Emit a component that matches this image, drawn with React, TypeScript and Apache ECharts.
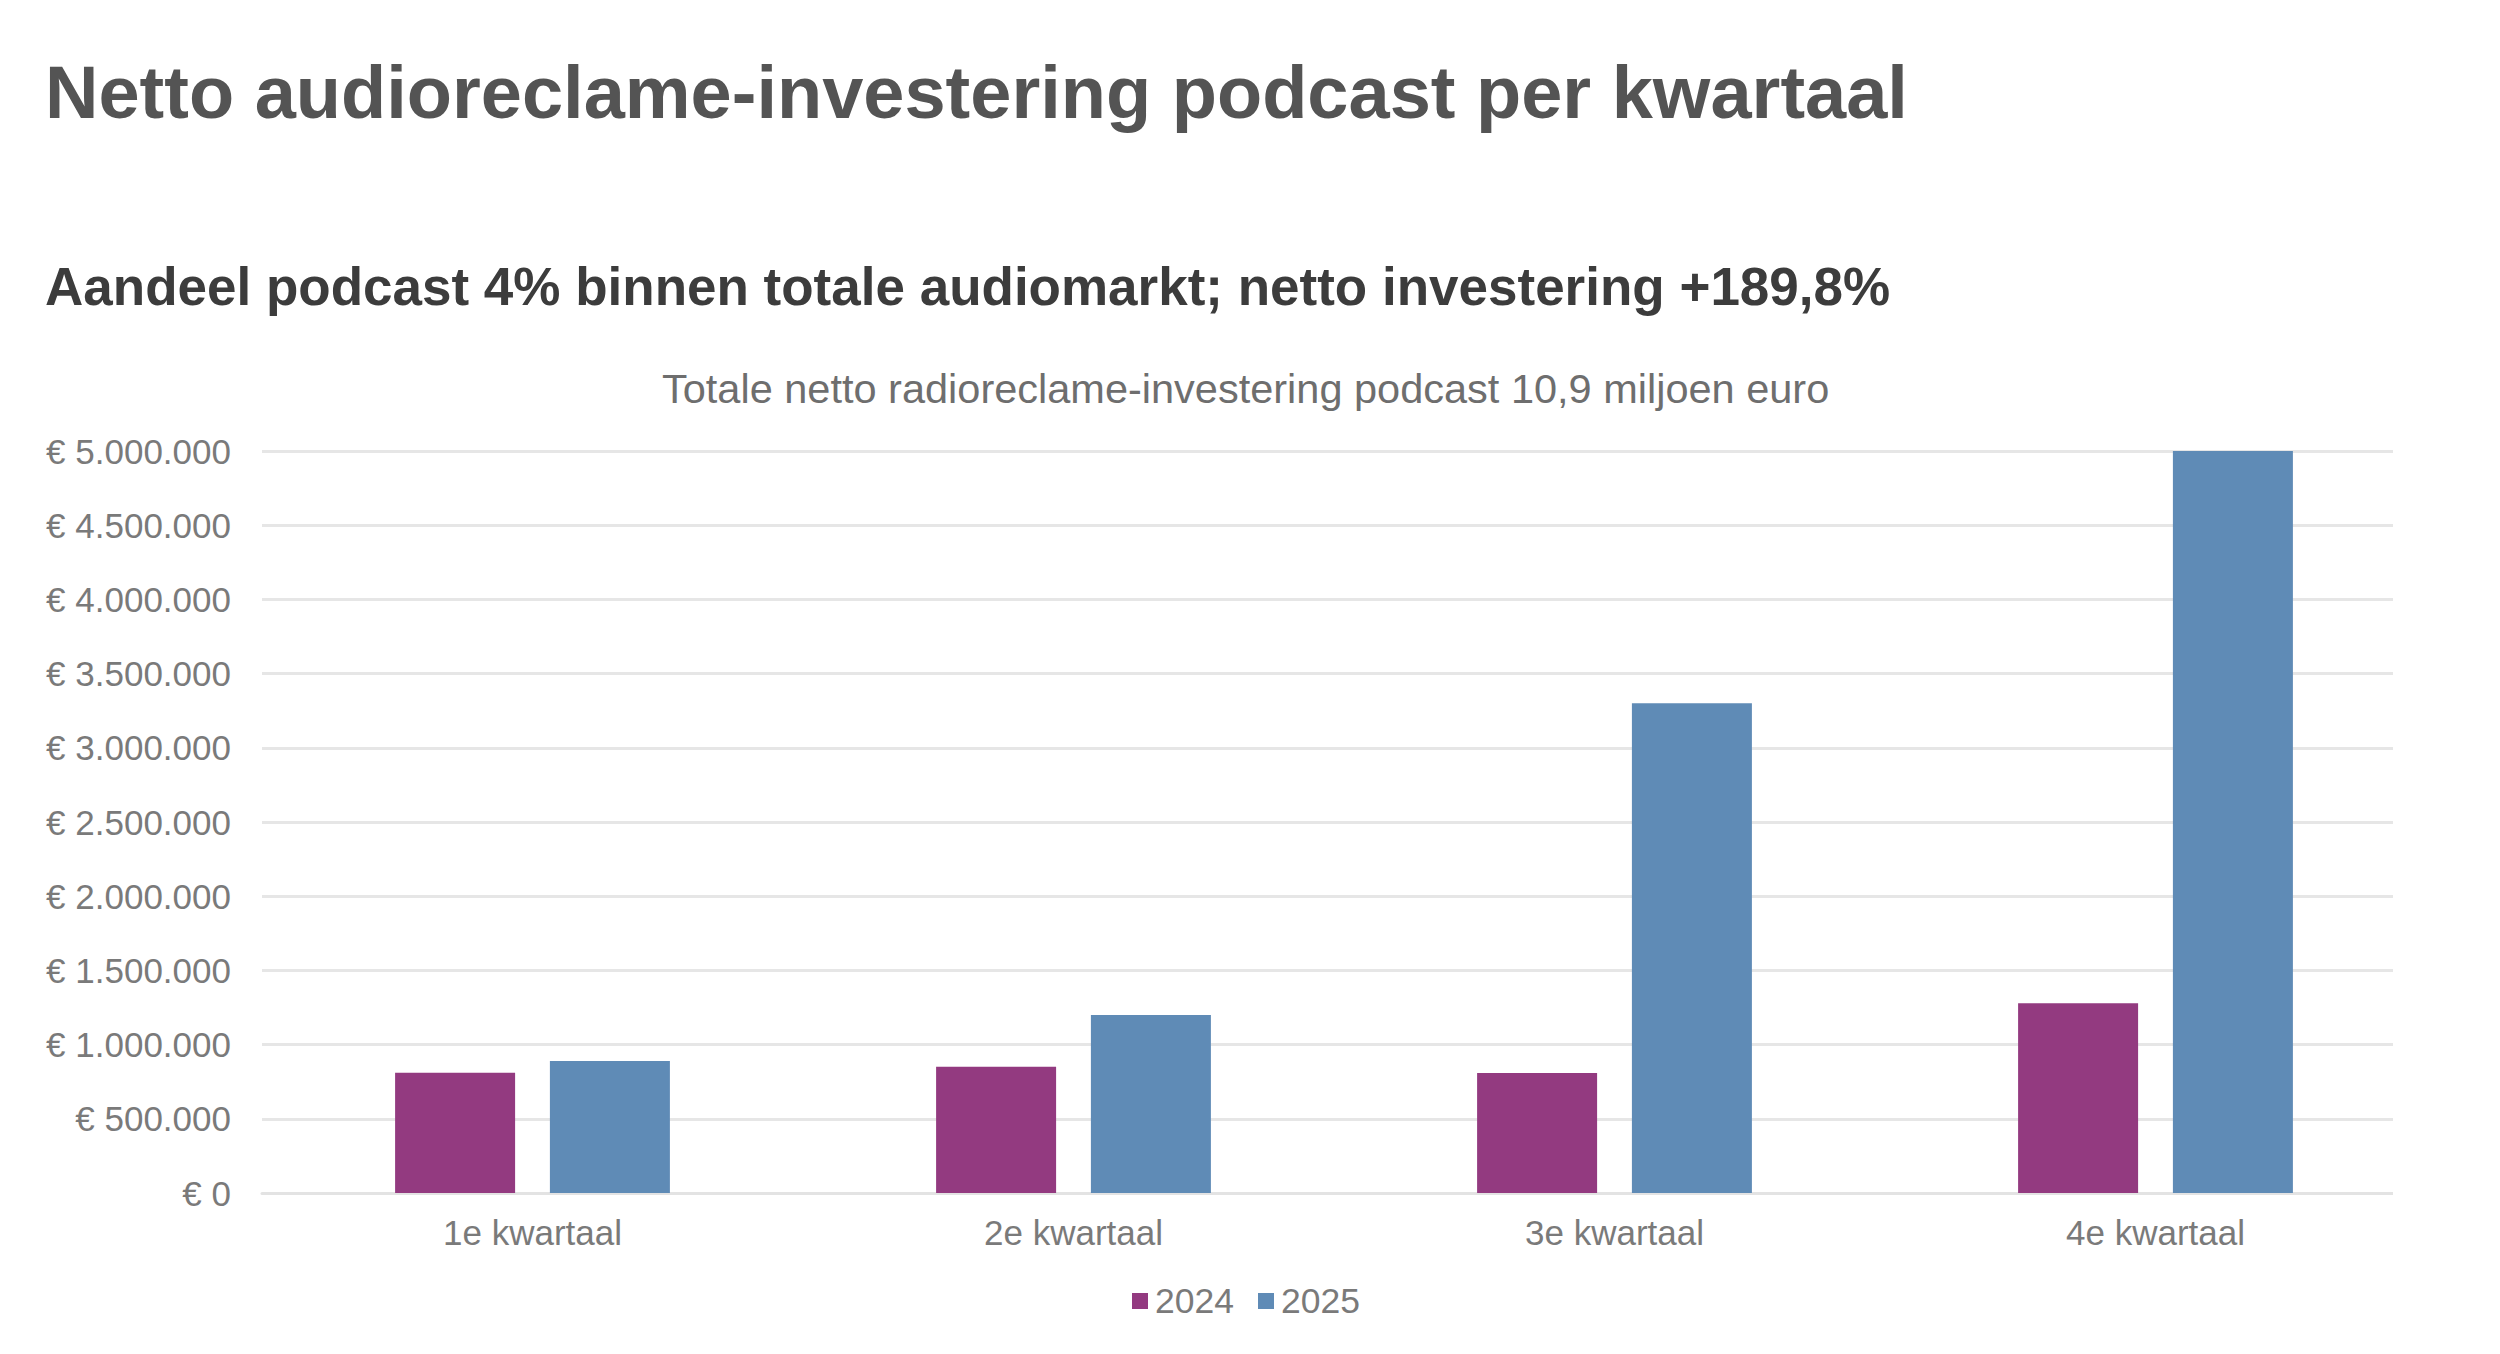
import React, { useEffect, useRef } from "react";
import * as echarts from "echarts";

const categories = ["1e kwartaal", "2e kwartaal", "3e kwartaal", "4e kwartaal"];
const values2024 = [810000, 850000, 808000, 1278000];
const values2025 = [889000, 1200000, 3300000, 5000000];
const seriesNames = ["2024", "2025"];
const yTicks = { min: 0, max: 5000000, interval: 500000 };

const mainTitle = "Netto audioreclame-investering podcast per kwartaal";
const subTitle = "Aandeel podcast 4% binnen totale audiomarkt; netto investering +189,8%";
const chartTitle = "Totale netto radioreclame-investering podcast 10,9 miljoen euro";

const FONT = "'Liberation Sans', Arial, Helvetica, sans-serif";

function euro(v: number): string {
  const s = Math.round(v).toString().replace(/\B(?=(\d{3})+(?!\d))/g, ".");
  return "€ " + s;
}

export default function App() {
  const ref = useRef<HTMLDivElement>(null);
  useEffect(() => {
    document.body.style.margin = "0";
    const chart = echarts.init(ref.current!, null, { renderer: "svg" });
    chart.setOption({
      animation: false,
      backgroundColor: "#ffffff",
      textStyle: { fontFamily: FONT },
      title: [
        {
          text: mainTitle,
          left: 45,
          top: 55,
          padding: 0,
          textStyle: { fontFamily: FONT, fontSize: 74, fontWeight: "bold", color: "#545454", lineHeight: 74 },
        },
        {
          text: subTitle,
          left: 45,
          top: 260,
          padding: 0,
          textStyle: { fontFamily: FONT, fontSize: 53, fontWeight: "bold", color: "#3c3c3c", lineHeight: 53 },
        },
        {
          text: chartTitle,
          left: 662,
          top: 368,
          padding: 0,
          textStyle: { fontFamily: FONT, fontSize: 41.5, fontWeight: "normal", color: "#6e6e6e", lineHeight: 41 },
        },
      ],
      legend: {
        data: seriesNames,
        left: 1132,
        top: 1283,
        padding: 0,
        icon: "rect",
        itemWidth: 16,
        itemHeight: 16,
        itemGap: 24,
        textStyle: { fontFamily: FONT, fontSize: 35.5, color: "#7a7a7a", lineHeight: 35, padding: [0, 0, 0, 2] },
      },
      grid: { left: 262, right: 74, top: 451, bottom: 161, containLabel: false },
      xAxis: {
        type: "category",
        data: categories,
        axisLine: { show: true, lineStyle: { color: "#e3e3e3", width: 3 } },
        axisTick: { show: false },
        axisLabel: { fontFamily: FONT, fontSize: 35, color: "#7a7a7a", margin: 22 },
      },
      yAxis: {
        type: "value",
        min: yTicks.min,
        max: yTicks.max,
        interval: yTicks.interval,
        axisLine: { show: false },
        axisTick: { show: false },
        splitLine: { lineStyle: { color: "#e6e6e6", width: 3 } },
        axisLabel: { fontFamily: FONT, fontSize: 35, color: "#7a7a7a", margin: 31, formatter: (v: number) => euro(v) },
      },
      series: [
        {
          name: seriesNames[0],
          type: "bar",
          data: values2024,
          barWidth: 120,
          barGap: "29%",
          itemStyle: { color: "#933a80" },
        },
        {
          name: seriesNames[1],
          type: "bar",
          data: values2025,
          barWidth: 120,
          barGap: "29%",
          itemStyle: { color: "#5f8bb6" },
        },
      ],
      graphic: [
        {
          type: "rect",
          shape: { x: 2393, y: 430, width: 60, height: 780 },
          style: { fill: "#ffffff" },
          z: 100,
        },
      ],
    });
    return () => chart.dispose();
  }, []);
  return <div ref={ref} style={{ width: 2500, height: 1354 }} />;
}
